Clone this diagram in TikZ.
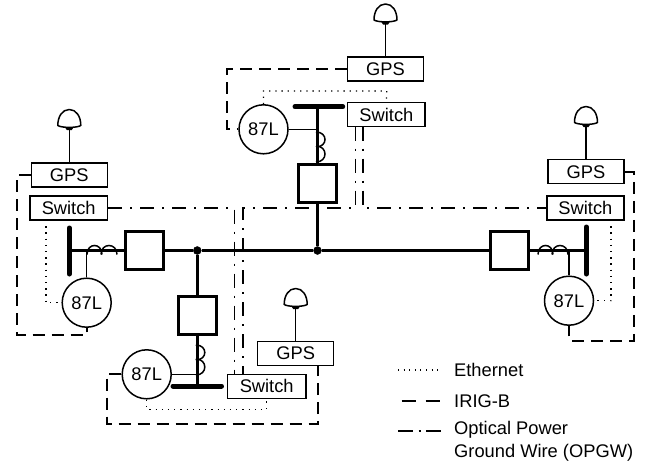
\documentclass[tikz,border=0pt]{standalone}
\usepackage{fontspec}
\setmainfont{Liberation Sans}
\newlength{\du}
\setlength{\du}{1pt}
\tikzset{
  thinwire/.style={line width=1.5\du,line cap=butt},
  feeder/.style={line width=2.8\du},
  busbar/.style={line width=5\du,line cap=round},
  ethernet/.style={line width=1.3\du,dash pattern=on 1.3\du off 4.9\du},
  irigb/.style={line width=1.7\du,dash pattern=on 12\du off 7\du},
  opgw/.style={line width=1.6\du,dash pattern=on 14\du off 8\du on 2\du off 8\du},
  devicebox/.style={draw,line width=1.5\du,inner sep=0pt,minimum width=76\du,minimum height=24\du,font=\fontsize{18.3}{20}\selectfont},
  relay/.style={draw,circle,line width=1.5\du,inner sep=0pt,minimum size=49\du,font=\fontsize{18.3}{20}\selectfont},
  breaker/.style={draw,line width=2.8\du,inner sep=0pt,minimum size=38\du},
  joint/.style={draw,circle,fill=black,inner sep=0pt,minimum size=8\du},
  legendtext/.style={anchor=west,inner sep=0pt,font=\fontsize{18.3}{20}\selectfont},
  coilh/.pic={
    \draw[thinwire] (0\du,-4\du) .. controls (0\du,8\du) and (15\du,8\du) .. (15\du,-4\du);
    \draw[thinwire] (14\du,-4\du) .. controls (14\du,8\du) and (30\du,8\du) .. (30\du,-4\du);
  },
  coilv/.pic={
    \draw[thinwire] (-4\du,0\du) .. controls (8\du,0\du) and (8\du,-15\du) .. (-4\du,-15\du);
    \draw[thinwire] (-4\du,-14\du) .. controls (8\du,-14\du) and (8\du,-30\du) .. (-4\du,-30\du);
  },
  dome/.pic={
    \draw[line width=1.5\du,line join=round] (-11.5\du,4\du) .. controls (-11.5\du,13\du) and (-7\du,20\du) .. (0\du,20\du) .. controls (7\du,20\du) and (11.5\du,13\du) .. (11.5\du,4\du) .. controls (8\du,1.5\du) and (-8\du,1.5\du) .. cycle;
    \fill (-4.5\du,2.5\du) -- (4.5\du,2.5\du) -- (2.5\du,-0.5\du) -- (-2.5\du,-0.5\du) -- cycle;
  }
}

\begin{document}
\begin{tikzpicture}
\pgftransformxscale{1.000000}
\pgftransformyscale{-1.000000}
\useasboundingbox (0\du,0\du) rectangle (646\du,466\du);
% top terminal
\node[devicebox] (gpsTop) at (385.5\du,69\du){GPS};
\node[devicebox,minimum width=77.5\du] (switchTop) at (386.4\du,114.7\du){Switch};
\node[relay] (relayTop) at (263.5\du,129.3\du){87L};
\node[breaker] (breakerTop) at (317.5\du,183.7\du){};
\coordinate (domeTop) at (385.5\du,24\du);
\coordinate (busTopA) at (295\du,106.7\du);
\coordinate (busTopB) at (342.7\du,106.7\du);
\coordinate (busTopM) at (317.5\du,106.7\du);
\coordinate (tapTop) at (317.5\du,129.3\du);
% left terminal
\node[devicebox] (gpsLeft) at (69.3\du,175\du){GPS};
\node[devicebox,minimum width=77.3\du] (switchLeft) at (68.7\du,208\du){Switch};
\node[relay] (relayLeft) at (86.7\du,302.7\du){87L};
\node[breaker] (breakerLeft) at (144.2\du,250.5\du){};
\coordinate (domeLeft) at (69.3\du,129.5\du);
\coordinate (busLeftA) at (69.3\du,228\du);
\coordinate (busLeftB) at (69.3\du,274\du);
\coordinate (busLeftM) at (69.3\du,250.5\du);
\coordinate (tapLeft) at (86.7\du,250.5\du);
% right terminal
\node[devicebox] (gpsRight) at (586\du,171.7\du){GPS};
\node[devicebox,minimum width=77.3\du] (switchRight) at (585.4\du,208\du){Switch};
\node[relay] (relayRight) at (569\du,300.7\du){87L};
\node[breaker] (breakerRight) at (509.3\du,250.5\du){};
\coordinate (domeRight) at (586\du,126.5\du);
\coordinate (busRightA) at (586.3\du,227\du);
\coordinate (busRightB) at (586.3\du,274\du);
\coordinate (busRightM) at (586.3\du,250.5\du);
\coordinate (tapRight) at (569\du,250.5\du);
% bottom terminal
\node[devicebox] (gpsBottom) at (295.7\du,353.3\du){GPS};
\node[devicebox,minimum width=78.7\du] (switchBottom) at (266.7\du,386.3\du){Switch};
\node[relay] (relayBottom) at (146.7\du,374.3\du){87L};
\node[breaker] (breakerBottom) at (197.3\du,315.5\du){};
\coordinate (domeBottom) at (295.7\du,308.5\du);
\coordinate (busBottomA) at (173\du,386\du);
\coordinate (busBottomB) at (221.5\du,386\du);
\coordinate (busBottomM) at (197.3\du,386\du);
\coordinate (tapBottom) at (197.3\du,374.3\du);
% main line
\node[joint] (jointLeft) at (197.3\du,250.5\du){};
\node[joint] (jointTop) at (317.5\du,250.5\du){};
\draw[feeder] (breakerLeft) -- (jointLeft) -- (jointTop) -- (breakerRight);
\draw[feeder] (breakerLeft) -- (busLeftM);
\draw[feeder] (breakerRight) -- (busRightM);
\draw[feeder] (jointTop) -- (breakerTop);
\draw[feeder] (breakerTop) -- (busTopM);
\draw[feeder] (jointLeft) -- (breakerBottom);
\draw[feeder] (breakerBottom) -- (busBottomM);
\draw[busbar] (busTopA) -- (busTopB);
\draw[busbar] (busLeftA) -- (busLeftB);
\draw[busbar] (busRightA) -- (busRightB);
\draw[busbar] (busBottomA) -- (busBottomB);
% coils
\pic at (87\du,250.5\du) {coilh};
\pic at (538\du,250.5\du) {coilh};
\pic at (320\du,132\du) {coilv};
\pic at (199.8\du,345\du) {coilv};
% relay taps
\draw[thinwire] (relayTop) -- (tapTop);
\draw[thinwire] (relayLeft) -- (tapLeft);
\draw[thinwire] (relayRight) -- (tapRight);
\draw[thinwire] (relayBottom) -- (tapBottom);
% antennas
\pic at (domeTop) {dome};
\pic at (domeLeft) {dome};
\pic at (domeRight) {dome};
\pic at (domeBottom) {dome};
\draw[thinwire] (domeTop) -- (gpsTop);
\draw[thinwire] (domeLeft) -- (gpsLeft);
\draw[thinwire] (domeRight) -- (gpsRight);
\draw[thinwire] (domeBottom) -- (gpsBottom);
% IRIG-B
\coordinate (irigTop) at (227\du,69\du);
\coordinate (irigLeft) at (16.7\du,175\du);
\coordinate (irigLeftB) at (16.7\du,335.3\du);
\coordinate (irigRight) at (633.7\du,171.7\du);
\coordinate (irigRightB) at (633.7\du,340.7\du);
\coordinate (irigBottom) at (106.7\du,374.3\du);
\coordinate (irigBottomB) at (106.7\du,423.7\du);
\coordinate (irigBottomC) at (318\du,423.7\du);
\coordinate (irigBottomD) at (318\du,365.3\du);
\draw[irigb] (gpsTop.west) -- (irigTop) |- (relayTop.west);
\draw[irigb] (gpsLeft.west) -- (irigLeft) -- (irigLeftB) -| (relayLeft.south);
\draw[irigb] (gpsRight.east) -- (irigRight) -- (irigRightB) -| (relayRight.south);
\draw[irigb] (relayBottom.west) -- (irigBottom) -- (irigBottomB) -- (irigBottomC) -- (irigBottomD);
% Ethernet
\coordinate (etherTop) at (263.5\du,91\du);
\coordinate (etherTopB) at (386.7\du,91\du);
\coordinate (etherLeft) at (46\du,220\du);
\coordinate (etherRight) at (611\du,220\du);
\coordinate (etherBottom) at (146.7\du,409.3\du);
\coordinate (etherBottomB) at (266.7\du,409.3\du);
\draw[ethernet] (relayTop.north) -- (etherTop) -- (etherTopB) -- (switchTop.north);
\draw[ethernet] (etherLeft) |- (relayLeft.west);
\draw[ethernet] (etherRight) |- (relayRight.east);
\draw[ethernet] (relayBottom.south) -- (etherBottom) -- (etherBottomB) -- (switchBottom.south);
% OPGW
\coordinate (opgwA) at (234.5\du,208\du);
\coordinate (opgwB) at (234.5\du,374.3\du);
\coordinate (opgwC) at (355.3\du,126.7\du);
\coordinate (opgwD) at (355.3\du,208\du);
\coordinate (opgwE) at (242.7\du,208\du);
\coordinate (opgwF) at (242.7\du,374.3\du);
\coordinate (opgwG) at (362.7\du,126.7\du);
\coordinate (opgwH) at (362.7\du,208\du);
\draw[opgw] (switchLeft.east) -- (opgwA) -- (opgwB);
\draw[opgw] (opgwC) -- (opgwD) -- (opgwE) -- (opgwF);
\draw[opgw] (opgwG) -- (opgwH) -- (switchRight.west);
% legend
\coordinate (legEtherA) at (398\du,370\du);
\coordinate (legEtherB) at (442\du,370\du);
\coordinate (legIrigA) at (401.7\du,401\du);
\coordinate (legIrigB) at (439.5\du,401\du);
\coordinate (legOpgwA) at (398\du,430.7\du);
\coordinate (legOpgwB) at (443\du,430.7\du);
\draw[ethernet,dash pattern=on 1\du off 4.6\du] (legEtherA) -- (legEtherB);
\draw[irigb,dash pattern=on 14\du off 9.8\du] (legIrigA) -- (legIrigB);
\draw[opgw,dash pattern=on 15\du off 5.5\du on 2\du off 5.5\du] (legOpgwA) -- (legOpgwB);
\node[legendtext] (labelEther) at (454\du,369.5\du){Ethernet};
\node[legendtext] (labelIrig) at (454\du,401\du){IRIG-B};
\node[legendtext] (labelOpgw) at (454\du,430\du){Optical Power};
\node[legendtext] (labelOpgwB) at (454\du,452.7\du){Ground Wire (OPGW)};
\end{tikzpicture}
\end{document}
